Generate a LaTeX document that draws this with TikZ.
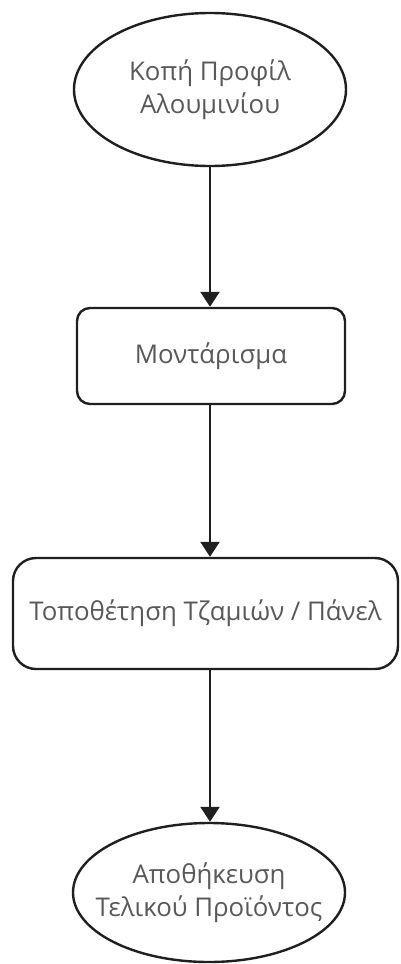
\documentclass[tikz,border=0pt]{standalone}
\usepackage{fontspec}
\setmainfont{Open Sans}
\usetikzlibrary{shapes.geometric,arrows.meta}
\begin{document}
\begin{tikzpicture}[x=1pt,y=-1pt,
  txt/.style={text=black!65, font=\fontsize{25.8}{33}\selectfont, align=center, inner sep=0pt},
  base/.style={draw=black!88, line width=2.4pt, fill=white, txt},
  oval/.style={base, ellipse},
  boxnode/.style={base, rectangle},
  flow/.style={draw=black!88, line width=2.4pt, -{Triangle[length=15pt,width=19pt]}}]
\useasboundingbox (0,0) rectangle (400,964);
\node[oval, minimum width=272pt, minimum height=153pt,
  label={[txt]center:{Κοπή Προφίλ\\Αλουμινίου}}] (e1) at (210,89.5) {};
\node[boxnode, rounded corners=13pt, minimum width=268pt, minimum height=96pt] (r2) at (211,356) {Μοντάρισμα};
\node[boxnode, rounded corners=23pt, minimum width=385pt, minimum height=111pt] (r3) at (205.5,613.5) {Τοποθέτηση Τζαμιών / Πάνελ};
\node[oval, minimum width=272pt, minimum height=139pt,
  label={[txt]center:{Αποθήκευση\\Τελικού Προϊόντος}}] (e4) at (209,892.5) {};
\draw[flow] (e1.south) -- (e1.south |- r2.north);
\draw[flow] (e1.south |- r2.south) -- (e1.south |- r3.north);
\draw[flow] (e1.south |- r3.south) -- (e1.south |- e4.north);
\end{tikzpicture}
\end{document}
